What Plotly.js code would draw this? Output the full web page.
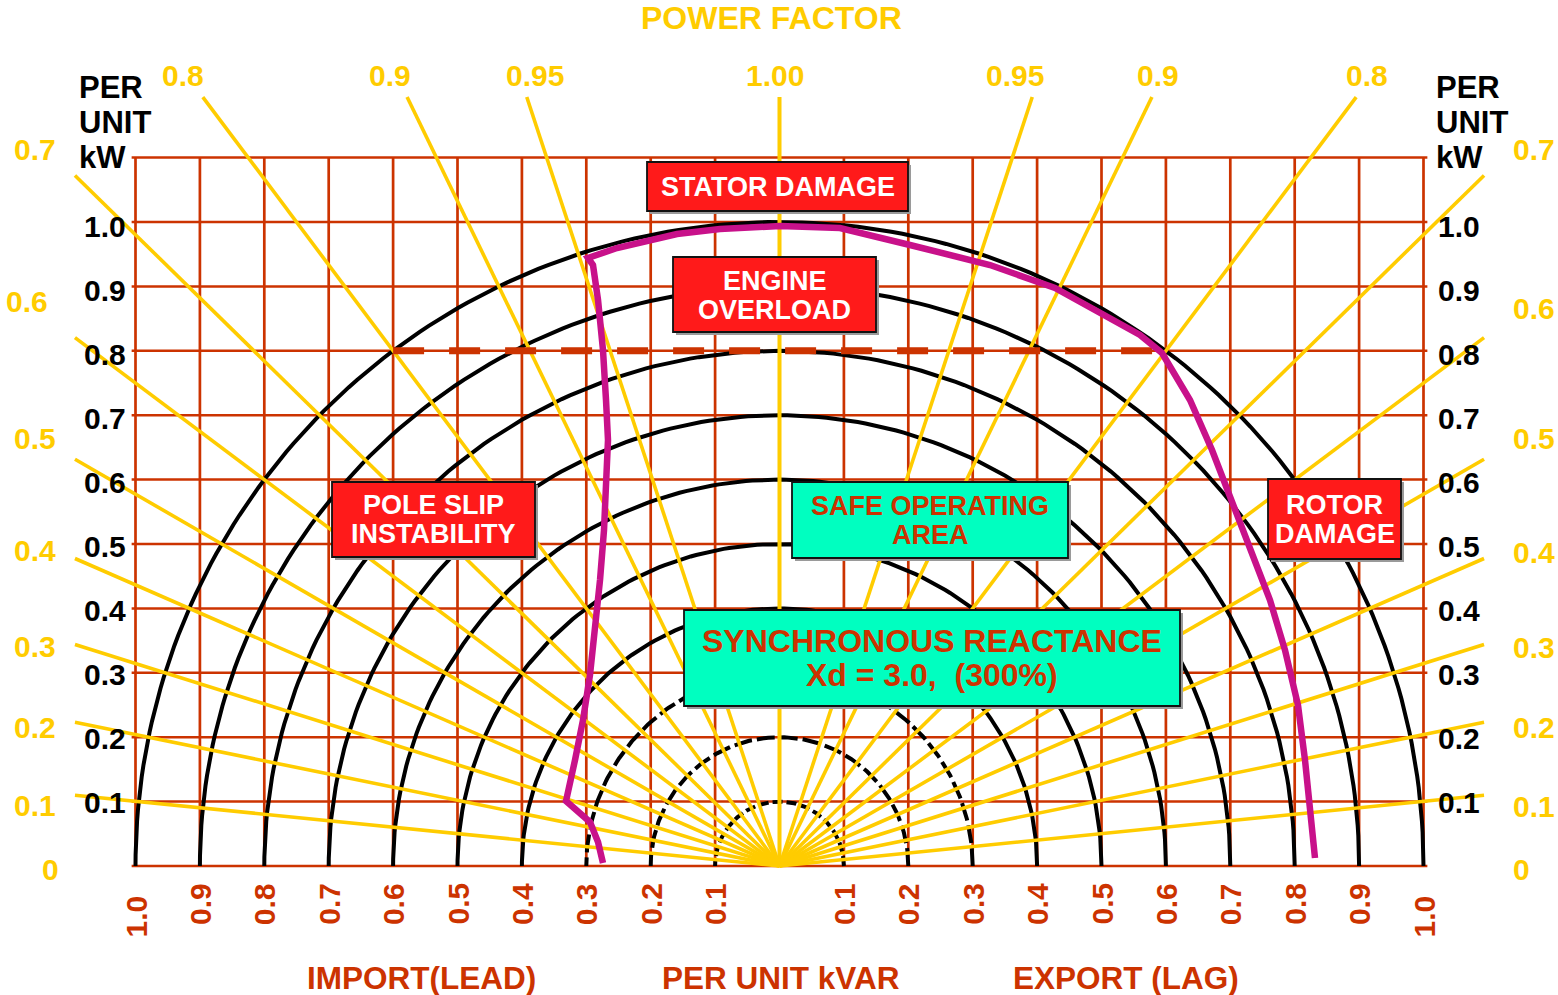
<!DOCTYPE html>
<html><head><meta charset="utf-8">
<script src="https://cdn.plot.ly/plotly-3.0.1.min.js"></script>
<style>html,body{margin:0;padding:0;background:#fff}#chart{width:1558px;height:995px}</style>
</head><body><div id="chart"></div>
<script>
// ---------------- data ----------------
const gridKvar = [-1.0,-0.9,-0.8,-0.7,-0.6,-0.5,-0.4,-0.3,-0.2,-0.1,0,0.1,0.2,0.3,0.4,0.5,0.6,0.7,0.8,0.9,1.0];
const gridKw = [0,0.1,0.2,0.3,0.4,0.5,0.6,0.7,0.8,0.9,1.0,1.1];
const kvarTicks = [-1.0,-0.9,-0.8,-0.7,-0.6,-0.5,-0.4,-0.3,-0.2,-0.1,0.1,0.2,0.3,0.4,0.5,0.6,0.7,0.8,0.9,1.0];
const kvarTickText = ['1.0','0.9','0.8','0.7','0.6','0.5','0.4','0.3','0.2','0.1','0.1','0.2','0.3','0.4','0.5','0.6','0.7','0.8','0.9','1.0'];
const kwTicks = [0.1,0.2,0.3,0.4,0.5,0.6,0.7,0.8,0.9,1.0];
const kwTickText = ['0.1','0.2','0.3','0.4','0.5','0.6','0.7','0.8','0.9','1.0'];
const mvaRadii = [0.1,0.2,0.3,0.4,0.5,0.6,0.7,0.8,0.9,1.0];
const dashedRadii = [0.1,0.2,0.3];
const pfLines = [1.0,0.95,0.9,0.8,0.7,0.6,0.5,0.4,0.3,0.2,0.1];
const pfTopText = ['0.8','0.9','0.95','1.00','0.95','0.9','0.8'];
const pfSideText = ['0.7','0.6','0.5','0.4','0.3','0.2','0.1','0'];
const engineLimitKw = 0.8;
const engineLimitKvar = [-0.6, 0.6];
const capKvar = [-0.2741,-0.2818,-0.2943,-0.3145,-0.3315,-0.3175,-0.3051,-0.2943,-0.2865,-0.2787,-0.2725,-0.2679,-0.2663,-0.2694,-0.2741,-0.2818,-0.2896,-0.2974,
  -0.2523,-0.1592,-0.0924,0.0008,0.0939,0.2026,0.2803,0.3269,0.4278,0.5163,0.5598,0.5939,
  0.6374,0.6716,0.7104,0.7384,0.7616,0.7849,0.8051,0.8160,0.8238,0.8315];
const capKw = [0.0047,0.0373,0.0683,0.0870,0.1009,0.1646,0.2267,0.2966,0.3665,0.4441,0.5217,0.5994,0.6615,0.7236,0.8012,0.8789,0.9332,0.9441,
  0.9596,0.9814,0.9891,0.9938,0.9907,0.9643,0.9457,0.9332,0.8975,0.8478,0.8245,0.7966,
  0.7236,0.6460,0.5481,0.4752,0.4130,0.3354,0.2500,0.1646,0.0870,0.0124];

// ---------------- helpers ----------------
const S = 644, CX = 779.5, CY = 866;
const px = p => (p - CX) / S;
const py = p => (CY - p) / S;
const FONT = '"Liberation Sans", Arial, Helvetica, sans-serif';
const RED = '#cc3300', YEL = '#ffcc00';

const traces = [];
// grid
{
  const xs = [], ys = [];
  gridKvar.forEach(v => { xs.push(v, v, null); ys.push(0, 1.1, null); });
  traces.push({x: xs, y: ys, mode: 'lines', line: {color: RED, width: 2.7}, hoverinfo: 'skip'});
  const xh = [], yh = [];
  gridKw.forEach(v => { xh.push(-1.006, 1.006, null); yh.push(v, v, null); });
  traces.push({x: xh, y: yh, mode: 'lines', line: {color: RED, width: 2.5}, hoverinfo: 'skip'});
}
// MVA circles
function arc(r) {
  const xs = [], ys = [];
  for (let a = 0; a <= 180; a += 1) { const t = a * Math.PI / 180; xs.push(r * Math.cos(t)); ys.push(r * Math.sin(t)); }
  return [xs, ys];
}
mvaRadii.forEach(r => {
  const [xs, ys] = arc(r);
  const dashed = dashedRadii.includes(r);
  traces.push({x: xs, y: ys, mode: 'lines', line: {color: '#000', width: 4, dash: dashed ? (r < 0.15 ? '10px,4px' : '18px,5px') : 'solid'}, hoverinfo: 'skip'});
});
// power factor lines
{
  const xs = [], ys = [];
  const XM = 1.094, YM = 1.194;
  pfLines.forEach(pf => {
    const th = Math.acos(pf);
    const t = Math.tan(th);
    let ex, ey;
    if (t * YM <= XM) { ex = t * YM; ey = YM; } else { ex = XM; ey = XM / t; }
    xs.push(0, -ex, null, 0, ex, null); ys.push(0, ey, null, 0, ey, null);
  });
  traces.push({x: xs, y: ys, mode: 'lines', line: {color: YEL, width: 3.6}, hoverinfo: 'skip'});
}
// engine limit
traces.push({x: engineLimitKvar, y: [engineLimitKw, engineLimitKw], mode: 'lines', line: {color: RED, width: 7, dash: '31px,25px'}, hoverinfo: 'skip'});
// capability curve
traces.push({x: capKvar, y: capKw, mode: 'lines', line: {color: '#c8118a', width: 6.5}, hoverinfo: 'skip'});

// ---------------- annotations ----------------
const ann = [];
function txt(x, y, text, size, color, opts) {
  ann.push(Object.assign({x: x, y: y, xref: 'x', yref: 'y', text: '<b>' + text + '</b>', showarrow: false,
    font: {family: FONT, size: size, color: color}, xanchor: 'center', yanchor: 'middle'}, opts || {}));
}
// x ticks (rotated)
kvarTicks.forEach((v, i) => {
  txt(v, py(Math.abs(v) > 0.99 ? 917 : 904), kvarTickText[i], 30, RED, {textangle: -90});
});
// kW ticks both sides
kwTicks.forEach((v, i) => {
  const yy = v * (1 - 0.007);
  txt(px(128), yy, kwTickText[i], 30, '#000', {xanchor: 'right'});
  txt(px(1436), yy, kwTickText[i], 30, '#000', {xanchor: 'left'});
});
// PER UNIT kW
[['PER', 87], ['UNIT', 122], ['kW', 157]].forEach(([t, y]) => {
  txt(px(77), py(y), t, 31, '#000', {xanchor: 'left'});
  txt(px(1434), py(y), t, 31, '#000', {xanchor: 'left'});
});
// pf labels top
const topX = [183, 390, 535, 775, 1015, 1158, 1367];
pfTopText.forEach((t, i) => txt(px(topX[i]), py(75), t, 30, YEL));
// pf labels sides
const sideY = [149, 301, 438, 550, 646, 727, 805, 869];
const sideYR = [149, 308, 438, 552, 647, 727, 806, 869];
pfSideText.forEach((t, i) => {
  txt(px(i === 1 ? 50 : (i === 7 ? 61 : 58)), py(sideY[i]), t, 30, YEL, {xanchor: 'right'});
  txt(px(1511), py(sideYR[i]), t, 30, YEL, {xanchor: 'left'});
});
// titles
txt(px(771), py(18), 'POWER FACTOR', 32, YEL);
txt(px(421), py(978), 'IMPORT(LEAD)', 31.5, RED);
txt(px(781), py(978), 'PER UNIT kVAR', 31.5, RED);
txt(px(1126), py(978), 'EXPORT (LAG)', 31.5, RED);

// boxes
const shapes = [];
function box(x0, x1, y0, y1, fill, lines, color, size) {
  shapes.push({type: 'rect', xref: 'x', yref: 'y', x0: px(x0 + 3), x1: px(x1 + 3), y0: py(y1 + 3), y1: py(y0 + 3),
    fillcolor: '#9a9a9a', line: {width: 0}, layer: 'above'});
  shapes.push({type: 'rect', xref: 'x', yref: 'y', x0: px(x0), x1: px(x1), y0: py(y1), y1: py(y0),
    fillcolor: fill, line: {color: '#111', width: 1.8}, layer: 'above'});
  lines.forEach(([t, y]) => txt(px((x0 + x1) / 2), py(y), t, size, color));
}
box(647, 908, 162, 211, '#ff1a1a', [['STATOR DAMAGE', 187]], '#fff', 27);
box(673, 876, 257, 332, '#ff1a1a', [['ENGINE', 281], ['OVERLOAD', 310]], '#fff', 27);
box(332, 535, 482, 557, '#ff1a1a', [['POLE SLIP', 505], ['INSTABILITY', 534]], '#fff', 27);
box(792, 1068, 482, 558, '#00ffc0', [['SAFE OPERATING', 506], ['AREA', 535]], RED, 27);
box(684, 1180, 610, 706, '#00ffc0', [['SYNCHRONOUS REACTANCE', 641], ['Xd = 3.0,&nbsp;&nbsp;(300%)', 675]], RED, 32);
box(1268, 1401, 479, 559, '#ff1a1a', [['ROTOR', 505], ['DAMAGE', 534]], '#fff', 27);

const layout = {
  width: 1558, height: 995, autosize: false,
  margin: {l: 0, r: 0, t: 0, b: 0, pad: 0},
  paper_bgcolor: '#fff', plot_bgcolor: '#fff',
  showlegend: false,
  xaxis: {range: [px(0), px(1558)], visible: false, fixedrange: true},
  yaxis: {range: [py(995), py(0)], visible: false, fixedrange: true},
  annotations: ann, shapes: shapes
};
Plotly.newPlot('chart', traces, layout, {staticPlot: true, displayModeBar: false});
</script></body></html>
